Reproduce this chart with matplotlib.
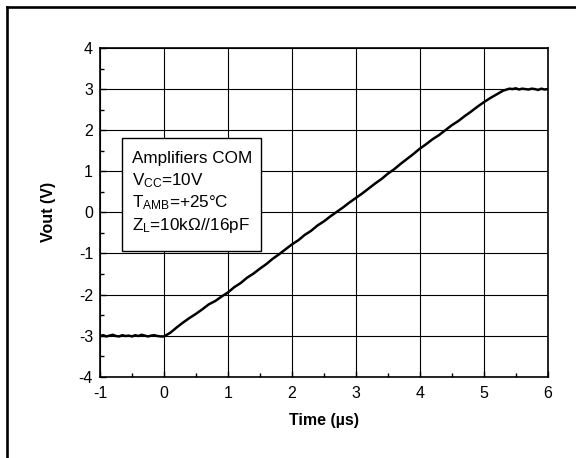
import matplotlib
matplotlib.use("Agg")
import matplotlib.pyplot as plt
from matplotlib.lines import Line2D
from matplotlib.patches import Rectangle

# time axis [us] and output voltage [V]
time_us = [
    -1.00, -0.95, -0.90, -0.85, -0.80, -0.75, -0.70, -0.65, -0.60, -0.55,
    -0.50, -0.45, -0.40, -0.35, -0.30, -0.25, -0.20, -0.15, -0.10, -0.05,
    0.00, 0.10, 0.20, 0.30, 0.40, 0.50, 0.60, 0.70, 0.80, 0.90,
    1.00, 1.10, 1.20, 1.30, 1.40, 1.50, 1.60, 1.70, 1.80, 1.90,
    2.00, 2.10, 2.20, 2.30, 2.40, 2.50, 2.60, 2.70, 2.80, 2.90,
    3.00, 3.10, 3.20, 3.30, 3.40, 3.50, 3.60, 3.70, 3.80, 3.90,
    4.00, 4.10, 4.20, 4.30, 4.40, 4.50, 4.60, 4.70, 4.80, 4.90,
    5.00, 5.10, 5.20, 5.30, 5.40, 5.45, 5.50, 5.55, 5.60, 5.65,
    5.70, 5.75, 5.80, 5.85, 5.90, 5.95, 6.00,
]
vout = [
    -3.01, -2.99, -3.02, -3.00, -2.98, -3.01, -3.02, -2.99, -3.01, -3.00,
    -3.02, -2.99, -3.01, -2.98, -3.00, -3.02, -3.00, -2.99, -3.01, -3.02,
    -3.02, -2.93, -2.80, -2.68, -2.57, -2.47, -2.36, -2.24, -2.16, -2.05,
    -1.95, -1.82, -1.72, -1.59, -1.49, -1.37, -1.26, -1.13, -1.02, -0.90,
    -0.78, -0.68, -0.55, -0.45, -0.32, -0.22, -0.10, 0.01, 0.12, 0.24,
    0.35, 0.46, 0.58, 0.70, 0.81, 0.94, 1.05, 1.18, 1.30, 1.42,
    1.55, 1.66, 1.78, 1.88, 2.00, 2.12, 2.22, 2.34, 2.45, 2.57,
    2.68, 2.78, 2.87, 2.96, 3.01, 3.00, 3.02, 2.99, 3.01, 3.00,
    2.99, 3.01, 3.00, 2.98, 3.01, 2.99, 3.00,
]

x_ticks = [-1, 0, 1, 2, 3, 4, 5, 6]
y_ticks = [-4, -3, -2, -1, 0, 1, 2, 3, 4]

box_lines = [
    "Amplifiers COM",
    r"V$_{\mathrm{CC}}$=10V",
    r"T$_{\mathrm{AMB}}$=+25°C",
    r"Z$_{\mathrm{L}}$=10kΩ//16pF",
]


def main():
    plt.rcParams["font.family"] = ["Liberation Sans", "DejaVu Sans"]
    plt.rcParams["mathtext.fontset"] = "custom"
    plt.rcParams["mathtext.rm"] = "Liberation Sans"
    plt.rcParams["mathtext.it"] = "Liberation Sans:italic"
    plt.rcParams["mathtext.bf"] = "Liberation Sans:bold"

    fig = plt.figure(figsize=(5.76, 4.58), dpi=100)
    ax = fig.add_axes([0.1736, 0.1775, 0.7773, 0.7177])

    # outer frame (left and top edges only are visible)
    fig.add_artist(Line2D([7 / 576, 7 / 576], [0, 1 - 6.5 / 458],
                          transform=fig.transFigure, color="black", lw=1.9))
    fig.add_artist(Line2D([7 / 576, 1], [1 - 6.5 / 458, 1 - 6.5 / 458],
                          transform=fig.transFigure, color="black", lw=1.9))

    ax.plot(time_us, vout, color="black", lw=1.8)

    ax.set_xlim(-1, 6)
    ax.set_ylim(-4, 4)
    ax.set_xticks(x_ticks)
    ax.set_yticks(y_ticks)
    ax.set_xticks([x + 0.5 for x in x_ticks[:-1]], minor=True)
    ax.set_yticks([y + 0.5 for y in y_ticks[:-1]], minor=True)
    ax.set_xticklabels([str(v) for v in x_ticks])
    ax.set_yticklabels([str(v) for v in y_ticks])
    ax.tick_params(which="both", direction="in", top=False, right=False,
                   labelsize=11.5, color="black")
    ax.tick_params(which="major", length=4, width=1)
    ax.tick_params(axis="x", which="major", pad=7)
    ax.tick_params(axis="y", which="major", pad=5)
    ax.tick_params(which="minor", length=3, width=1)
    ax.grid(True, which="major", color="black", lw=0.8)
    for s in ax.spines.values():
        s.set_linewidth(1.2)

    ax.set_xlabel("Time (µs)", fontsize=11.5, fontweight="bold", labelpad=8)
    ax.set_ylabel("Vout (V)", fontsize=11.5, fontweight="bold", labelpad=16)

    # annotation box with test conditions
    ax.add_patch(Rectangle((-0.66, -0.94), 2.18, 2.75, facecolor="white",
                           edgecolor="black", lw=1.0, zorder=5))
    for i, line in enumerate(box_lines):
        ax.text(-0.50, 1.20 - i * 0.54, line, fontsize=12.3, zorder=6,
                va="baseline", ha="left")

    plt.savefig("out.png", dpi=100)


if __name__ == "__main__":
    main()
